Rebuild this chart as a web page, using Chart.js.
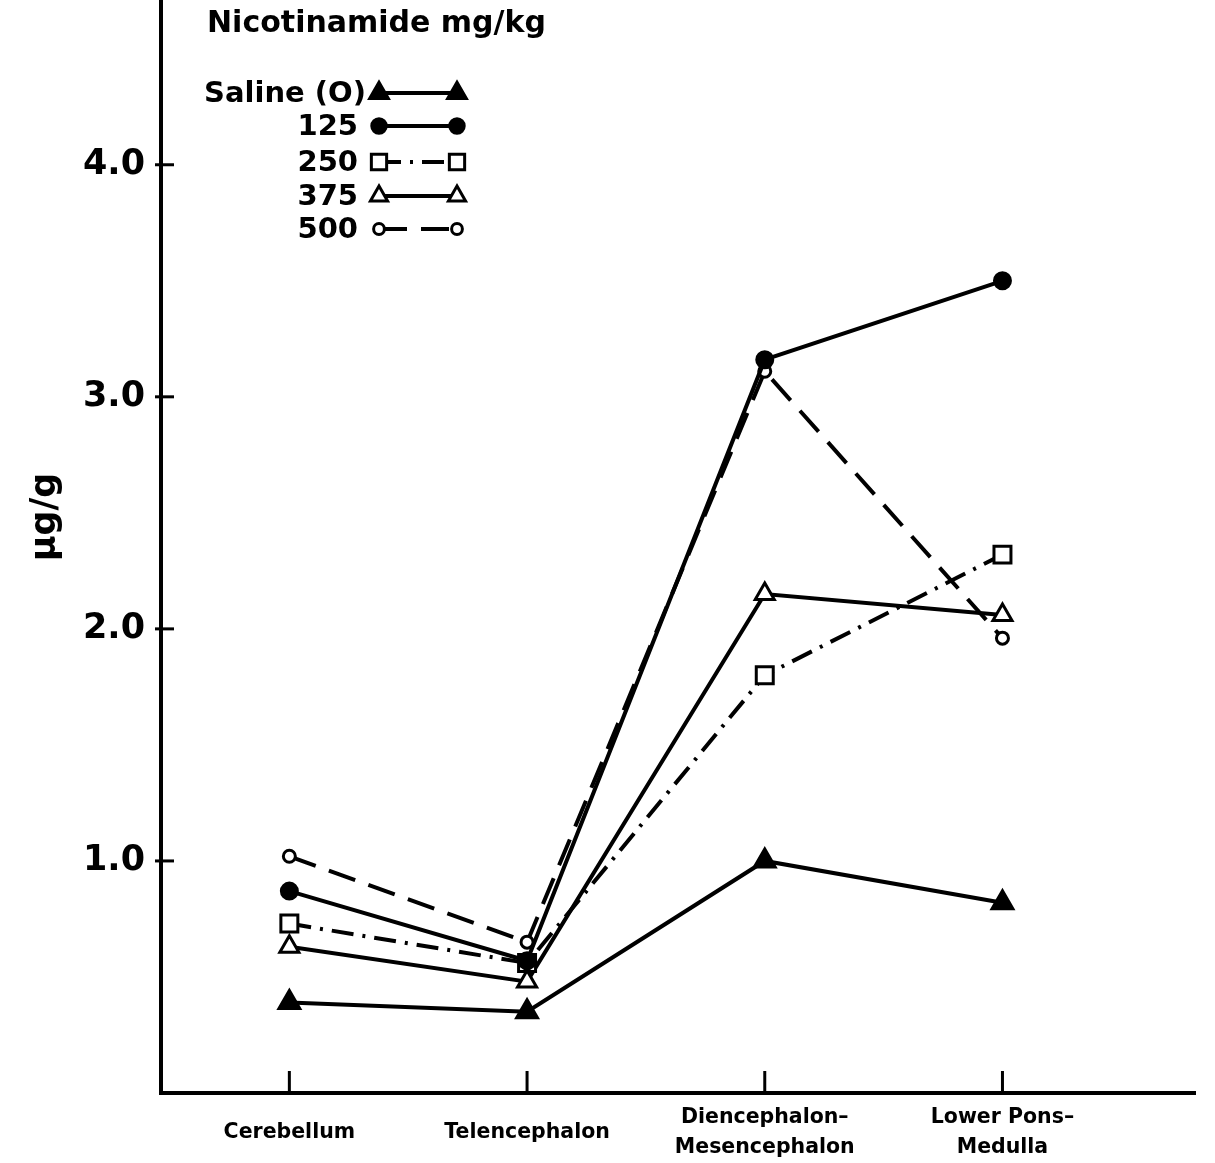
<!DOCTYPE html>
<html>
<head>
<meta charset="utf-8">
<script src="https://cdn.jsdelivr.net/npm/chart.js@4.4.1/dist/chart.umd.min.js"></script>
<style>
  html, body { margin: 0; padding: 0; background: #fff; }
  #wrap { width: 1215px; height: 1163px; }
</style>
</head>
<body>
<div id="wrap"><canvas id="chart" width="1215" height="1163"></canvas></div>
<script>
// brain regions and nicotinamide dose groups (values in µg/g)
const regions = ['Cerebellum', 'Telencephalon', ['Diencephalon\u2013', 'Mesencephalon'], ['Lower Pons\u2013', 'Medulla']];
const regionPos = [1, 2, 3, 4];
const yTicks = [1, 2, 3, 4];

const saline = [0.39, 0.35, 1.00, 0.82];
const dose125 = [0.87, 0.57, 3.16, 3.50];
const dose250 = [0.73, 0.56, 1.80, 2.32];
const dose375 = [0.63, 0.48, 2.15, 2.06];
const dose500 = [1.02, 0.65, 3.11, 1.96];

const legendTitle = 'Nicotinamide mg/kg';
const legendLabels = ['Saline (O)', '125', '250', '375', '500'];
const yTitle = '\u03bcg/g';

const font = "'DejaVu Sans', sans-serif";

function points(values) {
  return values.map((v, i) => ({ x: regionPos[i], y: v }));
}

function series(label, values, pointStyle, radius, filled, dash) {
  return {
    label: label,
    data: points(values),
    borderColor: '#000',
    borderWidth: 4,
    borderDash: dash,
    pointStyle: pointStyle,
    pointRadius: radius,
    pointBorderWidth: 3,
    pointBorderColor: '#000',
    pointBackgroundColor: filled ? '#000' : '#fff',
    tension: 0,
    fill: false
  };
}

// inward tick marks, y title and legend block
const extras = {
  id: 'extras',
  afterDraw(chart) {
    const ctx = chart.ctx;
    const area = chart.chartArea;
    const xs = chart.scales.x, ys = chart.scales.y;
    ctx.save();
    ctx.strokeStyle = '#000';
    ctx.lineWidth = 3;
    ctx.setLineDash([]);
    yTicks.forEach(v => {
      const p = ys.getPixelForValue(v);
      ctx.beginPath();
      ctx.moveTo(area.left - 6, p);
      ctx.lineTo(area.left + 13, p);
      ctx.stroke();
    });
    regionPos.forEach(v => {
      const p = xs.getPixelForValue(v);
      ctx.beginPath();
      ctx.moveTo(p, area.bottom);
      ctx.lineTo(p, area.bottom - 22);
      ctx.stroke();
    });

    ctx.fillStyle = '#000';
    ctx.save();
    ctx.translate(46, 517);
    ctx.rotate(-Math.PI / 2);
    ctx.font = 'bold 35px ' + font;
    ctx.textAlign = 'center';
    ctx.textBaseline = 'middle';
    ctx.fillText(yTitle, 0, 0);
    ctx.restore();

    ctx.font = 'bold 30px ' + font;
    ctx.textAlign = 'left';
    ctx.textBaseline = 'middle';
    ctx.fillText(legendTitle, 207, 24);

    const rowY = [93, 126, 162, 196, 229];
    const x1 = 379, x2 = 457;
    chart.data.datasets.forEach((ds, i) => {
      const y = rowY[i];
      ctx.fillStyle = '#000';
      ctx.font = 'bold 29px ' + font;
      ctx.textAlign = 'right';
      ctx.fillText(legendLabels[i], i === 0 ? 366 : 358, y + 1);
      ctx.strokeStyle = '#000';
      ctx.lineWidth = 4;
      ctx.setLineDash(ds.borderDash || []);
      ctx.beginPath();
      ctx.moveTo(x1, y);
      ctx.lineTo(x2, y);
      ctx.stroke();
      ctx.setLineDash([]);
      [x1, x2].forEach(px => {
        ctx.lineWidth = ds.pointBorderWidth;
        ctx.fillStyle = ds.pointBackgroundColor;
        ctx.strokeStyle = ds.pointBorderColor;
        Chart.helpers.drawPoint(ctx, { pointStyle: ds.pointStyle, radius: ds.pointRadius * 0.9, rotation: 0, borderWidth: ds.pointBorderWidth }, px, y);
      });
    });
    ctx.restore();
  }
};

new Chart(document.getElementById('chart'), {
  type: 'line',
  data: {
    datasets: [
      series('Saline (0)', saline, 'triangle', 12, true, []),
      series('125', dose125, 'circle', 8, true, []),
      series('250', dose250, 'rect', 12, false, [22, 9, 3, 9]),
      series('375', dose375, 'triangle', 11, false, []),
      series('500', dose500, 'circle', 6, false, [28, 14])
    ]
  },
  plugins: [extras],
  options: {
    responsive: false,
    animation: false,
    layout: { autoPadding: false, padding: { top: 0, right: 20, left: 0, bottom: 0 } },
    plugins: {
      legend: { display: false },
      tooltip: { enabled: false }
    },
    scales: {
      x: {
        type: 'linear',
        min: 0.46,
        max: 4.81,
        afterBuildTicks: (axis) => { axis.ticks = regionPos.map(v => ({ value: v })); },
        afterFit: (axis) => { axis.height = 70; axis.paddingLeft = 0; axis.paddingRight = 0; },
        grid: { display: false, drawTicks: false },
        border: { display: true, color: '#000', width: 4 },
        ticks: {
          padding: 25,
          crossAlign: 'center',
          color: '#000',
          font: { family: font, size: 20.5, weight: 'bold', lineHeight: 1.45 },
          callback: (v) => regions[regionPos.indexOf(v)] || ''
        }
      },
      y: {
        min: 0,
        max: 4.71,
        afterBuildTicks: (axis) => { axis.ticks = yTicks.map(v => ({ value: v })); },
        afterFit: (axis) => { axis.width = 161; axis.paddingTop = 0; axis.paddingBottom = 0; },
        grid: { display: false, drawTicks: false },
        border: { display: true, color: '#000', width: 4 },
        ticks: {
          padding: 16,
          color: '#000',
          font: { family: font, size: 35, weight: 'bold' },
          callback: (v) => v.toFixed(1)
        }
      }
    }
  }
});
</script>
</body>
</html>
